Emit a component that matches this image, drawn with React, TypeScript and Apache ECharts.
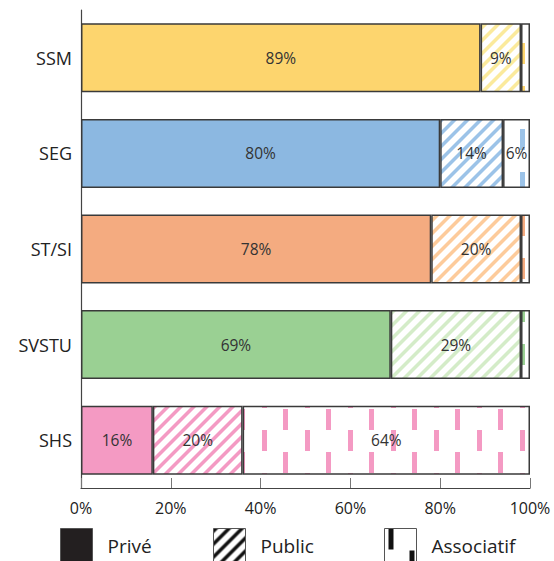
import React, { useEffect, useRef } from 'react';
import * as echarts from 'echarts';

const categories = ['SSM', 'SEG', 'ST/SI', 'SVSTU', 'SHS'];
const priveValues = [89, 80, 78, 69, 16];
const publicValues = [9, 14, 20, 29, 20];
const associatifValues = [2, 6, 2, 2, 64];
const seriesNames = ['Privé', 'Public', 'Associatif'];

const solidColors = ['#FDD56E', '#8CB8E1', '#F4AB80', '#9AD093', '#F49AC3'];
const hatchColors = ['#FBEA9C', '#9CC3E8', '#FDCB9B', '#D4ECC8', '#F49AC3'];
const dashColors = ['#FDD56E', '#9CC3E8', '#F4AB80', '#9AD093', '#F49AC3'];

const FONT = '"Open Sans", sans-serif';

function hatchPattern(color: string) {
  const s = 13;
  const w = 5;
  const c = document.createElement('canvas');
  c.width = s;
  c.height = s;
  const ctx = c.getContext('2d')!;
  ctx.fillStyle = '#ffffff';
  ctx.fillRect(0, 0, s, s);
  ctx.fillStyle = color;
  for (const k of [-s, 0, s]) {
    ctx.beginPath();
    ctx.moveTo(k, s);
    ctx.lineTo(k + w, s);
    ctx.lineTo(k + w + s, 0);
    ctx.lineTo(k + s, 0);
    ctx.closePath();
    ctx.fill();
  }
  return { image: c.toDataURL(), repeat: 'repeat', imageWidth: s, imageHeight: s };
}

function dashPattern(color: string) {
  const w = 43;
  const h = 43;
  const c = document.createElement('canvas');
  c.width = w;
  c.height = h;
  const ctx = c.getContext('2d')!;
  ctx.fillStyle = '#ffffff';
  ctx.fillRect(0, 0, w, h);
  ctx.fillStyle = color;
  ctx.fillRect(4, 0, 5, 21);
  ctx.fillRect(25, 22, 5, 21);
  return { image: c.toDataURL(), repeat: 'repeat', imageWidth: w, imageHeight: h };
}

export default function App() {
  const ref = useRef<HTMLDivElement>(null);

  useEffect(() => {
    if (!ref.current) return;
    const chart = echarts.init(ref.current, null, { renderer: 'svg' });

    const valueSets = [priveValues, publicValues, associatifValues];
    const fills = [
      solidColors.map((c) => c),
      hatchColors.map((c) => hatchPattern(c)),
      dashColors.map((c) => dashPattern(c)),
    ];
    const legendFills: any[] = ['#231f20', hatchPattern('#111111'), dashPattern('#111111')];
    const legendLefts = [60, 213, 384];

    const series = seriesNames.map((name, si) => ({
      name,
      type: 'bar',
      stack: 'total',
      barWidth: 69,
      itemStyle: { color: legendFills[si], borderColor: '#3a3a3a', borderWidth: 1.5 },
      label: {
        show: true,
        position: 'inside',
        color: '#333',
        fontSize: 15.5,
        fontFamily: FONT,
        formatter: (p: any) => (p.value >= 5 ? p.value + '%' : ''),
      },
      emphasis: { disabled: true },
      data: valueSets[si].map((v, i) => ({
        value: v,
        itemStyle: { color: fills[si][i] },
      })),
    }));

    chart.setOption({
      animation: false,
      grid: { left: 81, right: 24, top: 10, bottom: 73 },
      legend: seriesNames.map((name, i) => ({
        data: [name],
        left: legendLefts[i],
        top: 528,
        padding: 0,
        icon: 'rect',
        itemWidth: 32,
        itemHeight: 34,
        selectedMode: false,
        itemStyle: { borderColor: '#555', borderWidth: 1 },
        textStyle: { fontSize: 19, color: '#222', fontFamily: FONT, padding: [0, 0, 0, 10] },
      })),
      xAxis: {
        type: 'value',
        min: 0,
        max: 100,
        interval: 20,
        axisLine: { show: true, lineStyle: { color: '#444', width: 1.2 } },
        axisTick: { show: true, inside: true, length: 10, lineStyle: { color: '#777' } },
        splitLine: { show: false },
        axisLabel: { formatter: '{value}%', fontSize: 16, color: '#222', fontFamily: FONT, margin: 12 },
      },
      yAxis: {
        type: 'category',
        data: categories,
        inverse: true,
        axisLine: { show: true, lineStyle: { color: '#444', width: 1.2 } },
        axisTick: { show: false },
        axisLabel: { fontSize: 18, color: '#222', fontFamily: FONT, margin: 9 },
      },
      series,
    });

    return () => chart.dispose();
  }, []);

  return (
    <div
      ref={ref}
      style={{ position: 'absolute', left: 0, top: 0, width: 554, height: 561, background: '#fff' }}
    />
  );
}
